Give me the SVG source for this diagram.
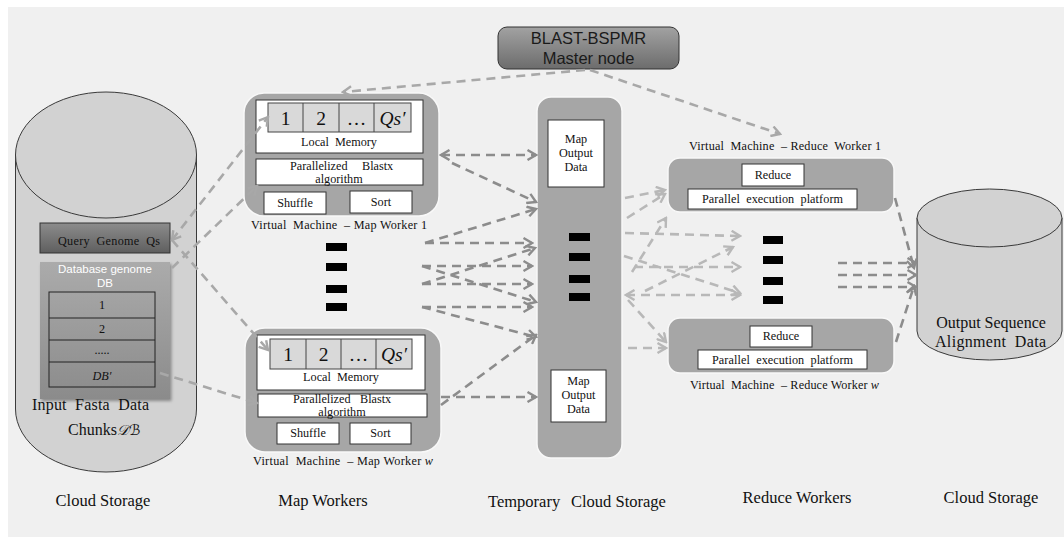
<svg xmlns="http://www.w3.org/2000/svg" width="1064" height="539" viewBox="0 0 1064 539">
  <defs>
    <style>
      .serif{font-family:"Liberation Serif","Times New Roman",serif;fill:#111}
      .sans{font-family:"Liberation Sans",Arial,sans-serif}
      .sm{font-size:12.2px}
      .num{font-size:19.5px}
      .panel{fill:#a6a6a6;stroke:#f8f8f8;stroke-width:1.5}
      .wbox{fill:#fff;stroke:#333;stroke-width:1}
      .cell{fill:#d9d9d9;stroke:#444;stroke-width:1}
      .dot{fill:#000}
      .cyl{fill:#d2d2d2;stroke:#3a3a3a;stroke-width:1}
      .dash{fill:none;stroke-width:2.6;stroke-dasharray:9 6}
      .dk{stroke:#8c8c8c}
      .md{stroke:#a8a8a8}
      .lt{stroke:#b8b8b8}
    </style>
    <marker id="ah-dk" viewBox="0 0 12 12" refX="10" refY="6" markerWidth="12" markerHeight="12" markerUnits="userSpaceOnUse" orient="auto-start-reverse">
      <path d="M1.5,1 L10,6 L1.5,11" fill="none" stroke="#8c8c8c" stroke-width="2.4"/>
    </marker>
    <marker id="ah-md" viewBox="0 0 12 12" refX="10" refY="6" markerWidth="12" markerHeight="12" markerUnits="userSpaceOnUse" orient="auto-start-reverse">
      <path d="M1.5,1 L10,6 L1.5,11" fill="none" stroke="#a8a8a8" stroke-width="2.4"/>
    </marker>
    <marker id="ah-lt" viewBox="0 0 12 12" refX="10" refY="6" markerWidth="12" markerHeight="12" markerUnits="userSpaceOnUse" orient="auto-start-reverse">
      <path d="M1.5,1 L10,6 L1.5,11" fill="none" stroke="#b8b8b8" stroke-width="2.4"/>
    </marker>
    <linearGradient id="g-master" x1="0" y1="0" x2="0" y2="1">
      <stop offset="0" stop-color="#a2a2a2"/>
      <stop offset="1" stop-color="#6c6c6c"/>
    </linearGradient>
    <linearGradient id="g-query" x1="0" y1="0" x2="0" y2="1">
      <stop offset="0" stop-color="#8c8c8c"/>
      <stop offset="1" stop-color="#5f5f5f"/>
    </linearGradient>
    <linearGradient id="g-db" x1="0" y1="0" x2="0" y2="1">
      <stop offset="0" stop-color="#ababab"/>
      <stop offset="1" stop-color="#8b8b8b"/>
    </linearGradient>
    <filter id="shadow" x="-10%" y="-10%" width="125%" height="125%">
      <feDropShadow dx="1.5" dy="2" stdDeviation="1.8" flood-color="#000" flood-opacity="0.35"/>
    </filter>
  </defs>

  <!-- page background -->
  <rect x="0" y="0" width="1064" height="539" fill="#ffffff"/>
  <rect x="8" y="7" width="1056" height="530" fill="#f0f0f0"/>

  <!-- input cloud storage -->
  <g id="input-storage">
    <path class="cyl" d="M15.5,155 V409 A90.5,63 0 0 0 196.5,409 V155 Z"/>
    <ellipse class="cyl" cx="106" cy="155" rx="90.5" ry="63"/>
    <rect x="40" y="223" width="130" height="30" fill="url(#g-query)" stroke="#333" stroke-width="1"/>
    <text class="serif sm" x="58" y="245" xml:space="preserve" textLength="102" lengthAdjust="spacing">Query  Genome  Qs</text>
    <g filter="url(#shadow)">
      <rect x="40" y="262" width="130" height="137" fill="url(#g-db)"/>
    </g>
    <text class="sans" x="105" y="273" font-size="11.5" fill="#ffffff" text-anchor="middle">Database genome</text>
    <text class="sans" x="105" y="287" font-size="11.5" fill="#ffffff" text-anchor="middle">DB</text>
    <g fill="none" stroke="#222" stroke-width="1">
      <rect x="49" y="292" width="106" height="95"/>
      <line x1="49" y1="318" x2="155" y2="318"/>
      <line x1="49" y1="340" x2="155" y2="340"/>
      <line x1="49" y1="362" x2="155" y2="362"/>
    </g>
    <text class="serif sm" x="102" y="309" text-anchor="middle">1</text>
    <text class="serif sm" x="102" y="333" text-anchor="middle">2</text>
    <text class="serif sm" x="102" y="354" text-anchor="middle">.....</text>
    <text class="serif sm" x="102" y="380" text-anchor="middle" font-style="italic">DB′</text>
    <text class="serif" font-size="16" x="32" y="410" xml:space="preserve" textLength="117" lengthAdjust="spacing">Input  Fasta  Data</text>
    <text class="serif" font-size="16" x="68" y="435">Chunks<tspan font-family="'DejaVu Serif','DejaVu Sans',serif" font-style="italic" font-size="14.5">𝒟ℬ</tspan></text>
  </g>

  <!-- master node -->
  <g id="master-node">
    <rect x="498" y="27" width="181" height="42" rx="9" fill="url(#g-master)" stroke="#333" stroke-width="1"/>
    <text class="sans" x="588.5" y="44" font-size="16.5" fill="#1a1a1a" text-anchor="middle">BLAST-BSPMR</text>
    <text class="sans" x="588.5" y="64" font-size="16.5" fill="#1a1a1a" text-anchor="middle">Master node</text>
  </g>

  <!-- map worker 1 -->
  <g id="map-worker-1">
    <rect class="panel" x="244" y="93" width="195" height="123" rx="20"/>
    <rect class="wbox" x="256" y="100" width="167" height="53"/>
    <rect class="cell" x="268" y="103" width="143" height="29"/>
    <g stroke="#444" stroke-width="1">
      <line x1="303" y1="103" x2="303" y2="132"/>
      <line x1="339" y1="103" x2="339" y2="132"/>
      <line x1="374" y1="103" x2="374" y2="132"/>
    </g>
    <text class="serif num" x="285.5" y="125" text-anchor="middle">1</text>
    <text class="serif num" x="321" y="125" text-anchor="middle">2</text>
    <text class="serif num" x="356.5" y="125" text-anchor="middle">…</text>
    <text class="serif num" x="392.5" y="125" text-anchor="middle" font-style="italic">Qs′</text>
    <text class="serif sm" x="339" y="146" xml:space="preserve" text-anchor="middle">Local  Memory</text>
    <rect class="wbox" x="256" y="159" width="167" height="26"/>
    <text class="serif sm" x="290" y="170">Parallelized</text>
    <text class="serif sm" x="362" y="170">Blastx</text>
    <text class="serif sm" x="339" y="183" text-anchor="middle">algorithm</text>
    <rect class="wbox" x="264" y="192" width="62" height="22"/>
    <text class="serif sm" x="295" y="207" text-anchor="middle">Shuffle</text>
    <rect class="wbox" x="350" y="191" width="62" height="22"/>
    <text class="serif sm" x="381" y="206" text-anchor="middle">Sort</text>
    <text class="serif sm" x="251" y="229" xml:space="preserve" textLength="176" lengthAdjust="spacing">Virtual  Machine  – Map Worker 1</text>
  </g>

  <!-- ellipsis between map workers -->
  <g id="map-ellipsis">
    <rect class="dot" x="326" y="243" width="21" height="8"/>
    <rect class="dot" x="326" y="263" width="21" height="8"/>
    <rect class="dot" x="326" y="285" width="21" height="8"/>
    <rect class="dot" x="326" y="303" width="21" height="8"/>
  </g>

  <!-- map worker w -->
  <g id="map-worker-w">
    <rect class="panel" x="245" y="328" width="196" height="124" rx="20"/>
    <rect class="wbox" x="257" y="335" width="168" height="55"/>
    <rect class="cell" x="270" y="339" width="142" height="30"/>
    <g stroke="#444" stroke-width="1">
      <line x1="306" y1="339" x2="306" y2="369"/>
      <line x1="341" y1="339" x2="341" y2="369"/>
      <line x1="376" y1="339" x2="376" y2="369"/>
    </g>
    <text class="serif num" x="288" y="361" text-anchor="middle">1</text>
    <text class="serif num" x="323.5" y="361" text-anchor="middle">2</text>
    <text class="serif num" x="358.5" y="361" text-anchor="middle">…</text>
    <text class="serif num" x="394" y="361" text-anchor="middle" font-style="italic">Qs′</text>
    <text class="serif sm" x="341" y="381" xml:space="preserve" text-anchor="middle">Local  Memory</text>
    <rect class="wbox" x="258" y="394" width="169" height="23"/>
    <text class="serif sm" x="293" y="403">Parallelized</text>
    <text class="serif sm" x="360" y="403">Blastx</text>
    <text class="serif sm" x="342" y="416" text-anchor="middle">algorithm</text>
    <rect class="wbox" x="277" y="423" width="62" height="21"/>
    <text class="serif sm" x="308" y="437" text-anchor="middle">Shuffle</text>
    <rect class="wbox" x="350" y="423" width="61" height="21"/>
    <text class="serif sm" x="380.5" y="437" text-anchor="middle">Sort</text>
    <text class="serif sm" x="253" y="465" xml:space="preserve" textLength="180" lengthAdjust="spacing">Virtual  Machine  – Map Worker <tspan font-style="italic">w</tspan></text>
  </g>

  <!-- temporary cloud storage -->
  <g id="temp-storage">
    <rect class="panel" x="537" y="97" width="85" height="361" rx="14"/>
    <rect class="wbox" x="548" y="120" width="56" height="67"/>
    <text class="serif sm" x="576" y="143" text-anchor="middle">Map</text>
    <text class="serif sm" x="576" y="157" text-anchor="middle">Output</text>
    <text class="serif sm" x="576" y="171" text-anchor="middle">Data</text>
    <rect class="dot" x="569" y="233" width="21" height="8"/>
    <rect class="dot" x="569" y="253" width="21" height="8"/>
    <rect class="dot" x="569" y="275" width="21" height="8"/>
    <rect class="dot" x="569" y="293" width="21" height="8"/>
    <rect class="wbox" x="551" y="370" width="55" height="52"/>
    <text class="serif sm" x="578.5" y="385" text-anchor="middle">Map</text>
    <text class="serif sm" x="578.5" y="399" text-anchor="middle">Output</text>
    <text class="serif sm" x="578.5" y="413" text-anchor="middle">Data</text>
  </g>

  <!-- reduce worker 1 -->
  <g id="reduce-worker-1">
    <text class="serif sm" x="689" y="150" xml:space="preserve" textLength="192" lengthAdjust="spacing">Virtual  Machine  – Reduce  Worker 1</text>
    <rect class="panel" x="668" y="158" width="226" height="54" rx="12"/>
    <rect class="wbox" x="742" y="164" width="62" height="22"/>
    <text class="serif sm" x="773" y="179" text-anchor="middle">Reduce</text>
    <rect class="wbox" x="688" y="189" width="169" height="20"/>
    <text class="serif sm" x="702" y="203" xml:space="preserve" textLength="141" lengthAdjust="spacing">Parallel  execution  platform</text>
  </g>

  <!-- ellipsis between reduce workers -->
  <g id="reduce-ellipsis">
    <rect class="dot" x="763" y="236" width="20" height="8"/>
    <rect class="dot" x="763" y="256" width="20" height="8"/>
    <rect class="dot" x="763" y="277" width="20" height="8"/>
    <rect class="dot" x="763" y="296" width="20" height="8"/>
  </g>

  <!-- reduce worker w -->
  <g id="reduce-worker-w">
    <rect class="panel" x="668" y="318" width="226" height="55" rx="12"/>
    <rect class="wbox" x="750" y="326" width="62" height="21"/>
    <text class="serif sm" x="781" y="340" text-anchor="middle">Reduce</text>
    <rect class="wbox" x="698" y="350" width="169" height="19"/>
    <text class="serif sm" x="712" y="364" xml:space="preserve" textLength="141" lengthAdjust="spacing">Parallel  execution  platform</text>
    <text class="serif sm" x="690" y="389" xml:space="preserve" textLength="189" lengthAdjust="spacing">Virtual  Machine  – Reduce Worker <tspan font-style="italic">w</tspan></text>
  </g>

  <!-- output cloud storage -->
  <g id="output-storage">
    <path class="cyl" d="M917,218 V331 A72.5,29 0 0 0 1062,331 V218 Z"/>
    <ellipse class="cyl" cx="989.5" cy="218" rx="72.5" ry="29"/>
    <text class="serif" font-size="16" x="991" y="328" text-anchor="middle">Output Sequence</text>
    <text class="serif" font-size="16" x="935" y="347" xml:space="preserve" textLength="111" lengthAdjust="spacing">Alignment  Data</text>
  </g>

  <!-- column captions -->
  <g id="captions" class="serif" font-size="16.5">
    <text x="103" y="506" text-anchor="middle">Cloud Storage</text>
    <text x="323" y="506" text-anchor="middle">Map Workers</text>
    <text x="488" y="507">Temporary</text>
    <text x="571" y="507">Cloud Storage</text>
    <text x="797" y="503" text-anchor="middle">Reduce Workers</text>
    <text x="991" y="503" text-anchor="middle">Cloud Storage</text>
  </g>

  <!-- connectors -->
  <g id="connectors">
    <!-- master node to workers -->
    <path class="dash md" d="M585,70 L343,92" marker-end="url(#ah-md)"/>
    <path class="dash md" d="M590,70 L780,134" marker-end="url(#ah-md)"/>

    <!-- input storage to map workers -->
    <path class="dash md" d="M172,240 L268,117" marker-start="url(#ah-md)" marker-end="url(#ah-md)"/>
    <path class="dash md" d="M172,268 L257,186" marker-end="url(#ah-md)"/>
    <path class="dash md" d="M172,240 L268,350" marker-end="url(#ah-md)"/>
    <path class="dash md" d="M160,373 L257,403" marker-end="url(#ah-md)"/>

    <!-- map workers to temporary storage -->
    <path class="dash dk" d="M441,155 L536,155" marker-start="url(#ah-dk)" marker-end="url(#ah-dk)"/>
    <path class="dash dk" d="M452,163 L536,202" marker-end="url(#ah-dk)"/>
    <path class="dash dk" d="M425,243 L536,209" marker-end="url(#ah-dk)"/>
    <path class="dash dk" d="M425,243 L532,243" marker-end="url(#ah-dk)"/>
    <path class="dash dk" d="M422,266 L532,266" marker-end="url(#ah-dk)"/>
    <path class="dash dk" d="M422,266 L536,302" marker-end="url(#ah-dk)"/>
    <path class="dash dk" d="M422,284 L532,284" marker-end="url(#ah-dk)"/>
    <path class="dash dk" d="M422,284 L535,248" marker-end="url(#ah-dk)"/>
    <path class="dash dk" d="M422,307 L532,307" marker-end="url(#ah-dk)"/>
    <path class="dash dk" d="M422,307 L536,337" marker-end="url(#ah-dk)"/>
    <path class="dash dk" d="M441,405 L536,335" marker-end="url(#ah-dk)"/>
    <path class="dash dk" d="M441,397 L536,397" marker-end="url(#ah-dk)"/>

    <!-- temporary storage to reduce workers -->
    <path class="dash lt" d="M625,198 L665,190" marker-end="url(#ah-lt)"/>
    <path class="dash lt" d="M627,218 L665,194" marker-end="url(#ah-lt)"/>
    <path class="dash lt" d="M632,272 L666,218" marker-end="url(#ah-lt)"/>
    <path class="dash lt" d="M625,233 L740,236" marker-end="url(#ah-lt)"/>
    <path class="dash lt" d="M624,256 L740,293" marker-end="url(#ah-lt)"/>
    <path class="dash lt" d="M634,267 L740,267" marker-end="url(#ah-lt)"/>
    <path class="dash lt" d="M626,295 L740,295" marker-start="url(#ah-lt)" marker-end="url(#ah-lt)"/>
    <path class="dash lt" d="M645,291 L733,247" marker-end="url(#ah-lt)"/>
    <path class="dash lt" d="M628,300 L666,342" marker-end="url(#ah-lt)"/>
    <path class="dash lt" d="M628,348 L666,348" marker-end="url(#ah-lt)"/>

    <!-- reduce workers to output storage -->
    <path class="dash dk" d="M895,198 L914,268" marker-end="url(#ah-dk)"/>
    <path class="dash dk" d="M896,342 L914,286" marker-end="url(#ah-dk)"/>
    <path class="dash dk" d="M838,263 L916,263" marker-end="url(#ah-dk)"/>
    <path class="dash dk" d="M838,275 L916,275" marker-end="url(#ah-dk)"/>
    <path class="dash dk" d="M838,287 L916,287" marker-end="url(#ah-dk)"/>
  </g>
</svg>
